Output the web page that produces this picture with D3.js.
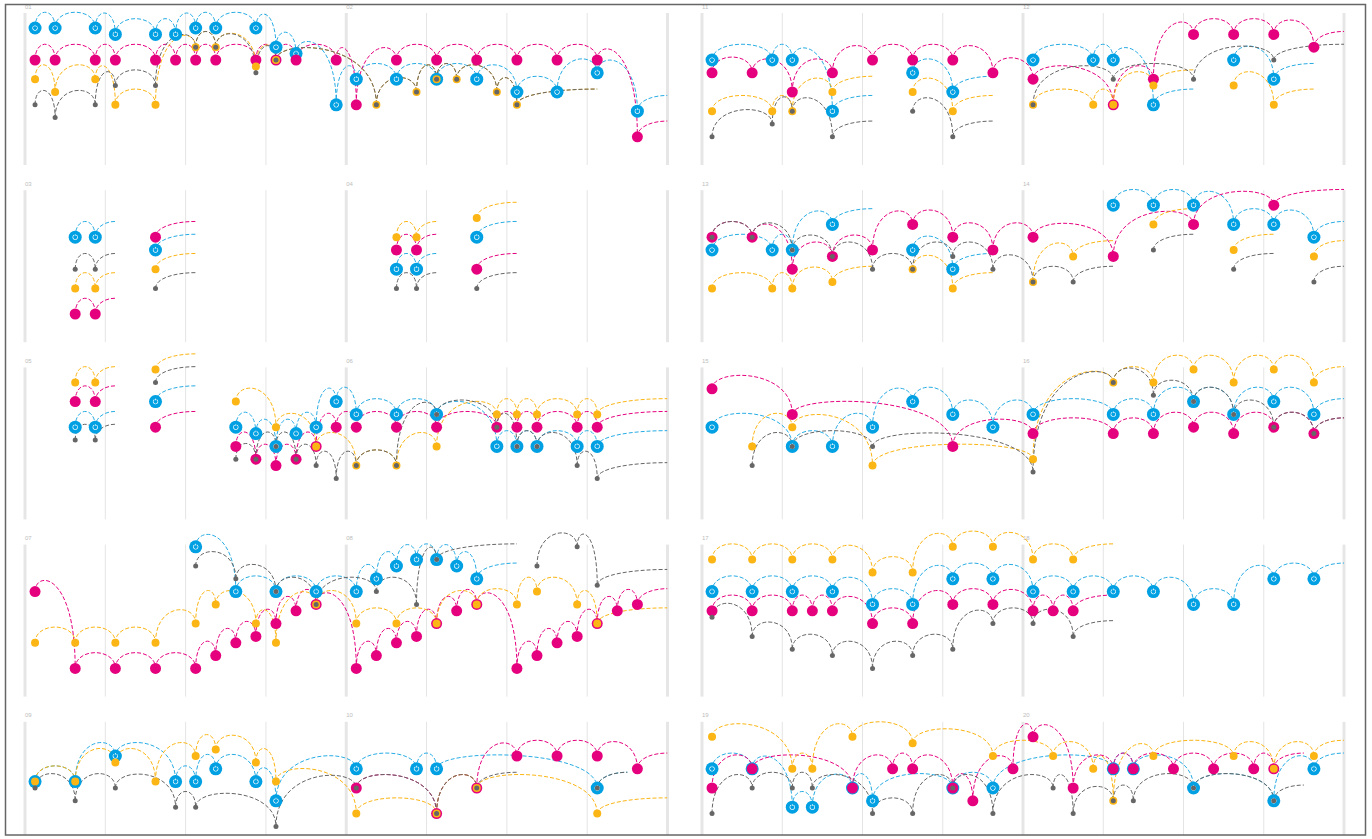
<!DOCTYPE html>
<html>
<head>
<meta charset="utf-8">
<script src="https://cdn.jsdelivr.net/npm/d3@7"></script>
<style>
  body { margin: 0; background: #fff; }
  svg { display: block; font-family: "Liberation Sans", Arial, sans-serif; }
</style>
</head>
<body>
<div id="chart"></div>
<script>
// Each point: [slot, rank] ; a third value ends the run with a trailing half arc of that many slots

// strip 01 | 02
var r01Blue    = [[0,0],[1,0],[3,0],[4,1],[6,1],[7,1],[8,0],[9,0],[11,0],[12,3],[13,4],[15,12],[16,8],[18,8],[20,8],[22,8],[24,10],[26,10],[28,7],[30,13,1.5]];
var r01Magenta = [[0,5],[1,5],[3,5],[4,5],[6,5],[7,5],[8,5],[9,5],[11,5],[12,5],[13,5],[15,5],[16,12],[18,5],[20,5],[22,5],[24,5],[26,5],[28,5],[30,17,1.5]];
var r01Yellow  = [[0,8],[1,10],[3,8],[4,12],[6,12],[8,3],[9,3],[11,6],[12,5],[17,12],[19,10],[20,8],[21,8],[23,10],[24,12,4]];
var r01Gray    = [[0,12],[1,14],[3,12],[4,9],[6,9],[8,3],[9,3],[11,7],[12,5],[17,12],[19,10],[20,8],[21,8],[23,10],[24,12,4]];

// strip 03 | 04
var r03Blue    = [[2,5],[3,5,1],[6,7,2],[18,10],[19,10,1],[22,5,2]];
var r03Magenta = [[2,17],[3,17,1],[6,5,2],[18,7],[19,7,1],[22,10,2]];
var r03Yellow  = [[2,13],[3,13,1],[6,10,2],[18,5],[19,5,1],[22,2,2]];
var r03Gray    = [[2,10],[3,10,1],[6,13,2],[18,13],[19,13,1],[22,13,2]];

// strip 05 | 06
var r05Blue    = [[2,7],[3,7,1],[6,3,2],[10,7],[11,8],[12,10],[13,8],[14,7],[15,3],[16,5],[18,5],[20,5],[23,10],[24,10],[25,10],[27,10],[28,10,3.5]];
var r05Magenta = [[2,3],[3,3,1],[6,7,2],[10,10],[11,12],[12,13],[13,12],[14,10],[15,7],[16,7],[18,7],[20,7],[23,7],[24,7],[25,7],[27,7],[28,7,3.5]];
var r05Yellow  = [[2,0],[3,0,1],[6,-2,2],[10,3],[12,7],[14,10],[16,13],[18,13],[20,10],[23,5],[24,5],[25,5],[27,5],[28,5,3.5]];
var r05Gray    = [[2,9],[3,9,1],[6,0,2],[10,12],[11,12],[12,10],[13,12],[14,13],[15,15],[16,13],[18,13],[20,5],[23,7],[24,10],[25,10],[27,13],[28,15,3.5]];

// strip 07 | 08
var r07Blue    = [[8,-2],[10,5],[12,5],[14,5],[16,5],[17,3],[18,1],[19,0],[20,0],[21,1],[22,3,2]];
var r07Magenta = [[0,5],[2,17],[4,17],[6,17],[8,17],[9,15],[10,13],[11,12],[12,10],[13,8],[14,7],[16,17],[17,15],[18,13],[19,12],[20,10],[21,8],[22,7],[24,17],[25,15],[26,13],[27,12],[28,10],[29,8],[30,7,1.5]];
var r07Yellow  = [[0,13],[2,13],[4,13],[6,13],[8,10],[9,7],[11,10],[12,13],[14,7],[16,10],[18,10],[20,10],[22,7],[24,7],[25,5],[27,7],[28,10,3.5]];
var r07Gray    = [[8,1],[10,3],[12,5],[14,7],[17,5],[19,7],[20,0,4],[25,1],[27,-2],[28,4,3.5]];

// strip 09 | 10
var r09Blue    = [[0,7],[2,7],[4,3],[7,7],[8,7],[9,5],[11,7],[12,10],[16,5],[19,5],[20,5],[28,8,1.5]];
var r09Magenta = [[16,8],[20,12],[22,8],[24,3],[26,3],[28,3],[30,5,1.5]];
var r09Yellow  = [[0,7],[2,7],[4,4],[6,7],[8,3],[9,2],[11,4],[12,7],[16,12],[20,12],[22,8],[28,12,3.5]];
var r09Gray    = [[0,8],[2,10],[4,8],[7,11],[8,11],[12,14],[16,8],[20,12],[22,8,2],[28,8,1.5]];

// strip 11 | 12
var r11Blue    = [[0,5],[3,5],[4,5],[6,13,2],[10,7],[12,10,2],[16,5],[19,5],[20,5],[22,12,2],[26,5],[28,8,2]];
var r11Magenta = [[0,7],[2,7],[4,10],[6,7],[8,5],[10,5],[12,5],[14,7],[16,8],[20,12],[22,8],[24,1],[26,1],[28,1],[30,3,1.5]];
var r11Yellow  = [[0,13],[3,13],[4,13],[6,10,2],[10,10],[12,13,2],[16,12],[19,12],[20,12],[22,9,2],[26,9],[28,12,2]];
var r11Gray    = [[0,17],[3,15],[4,13],[6,17,2],[10,13],[12,17,2],[16,12],[20,8],[24,8],[28,5,3.5]];

// strip 13 | 14
var r13Blue    = [[0,7],[3,7],[4,7],[6,3,2],[10,7],[12,10,2],[20,0],[22,0],[24,0],[26,3],[28,3],[30,5,1.5]];
var r13Magenta = [[0,5],[2,5],[4,10],[6,8],[8,7],[10,3],[12,5],[14,7],[16,5],[20,8],[24,3],[28,0,3.5]];
var r13Yellow  = [[0,13],[3,13],[4,13],[6,12,2],[10,10],[12,13,2],[16,12],[18,8,2],[22,3,2],[26,7,2],[30,8,1.5]];
var r13Gray    = [[0,5],[2,5],[4,7],[6,8],[8,10],[10,10],[12,8],[14,10],[16,12],[18,12,2],[22,7,2],[26,10,2],[30,12,1.5]];

// strip 15 | 16
var r15Blue    = [[0,7],[4,10],[6,10],[8,7],[10,3],[12,5],[14,7],[16,5],[20,5],[22,5],[24,3],[26,5],[28,3],[30,5,1.5]];
var r15Magenta = [[0,1],[4,5],[12,10],[16,8],[20,8],[22,8],[24,7],[26,8],[28,7],[30,8,1.5]];
var r15Yellow  = [[2,10],[4,7],[8,13],[16,12],[20,0],[22,0],[24,-2],[26,0],[28,-2],[30,0,1.5]];
var r15Gray    = [[2,13],[4,10],[8,10],[16,14],[20,0],[22,2],[24,3],[26,5],[28,7],[30,8,1.5]];

// strip 17 | 18
var r17Blue    = [[0,5],[2,5],[4,5],[6,5],[8,7],[10,7],[12,3],[14,3],[16,5],[18,5],[20,5],[22,5],[24,7],[26,7],[28,3],[30,3,1.5]];
var r17Magenta = [[0,8],[2,8],[4,8],[5,8],[6,8],[8,10],[10,10],[12,7],[14,7],[16,8],[17,8],[18,8,2]];
var r17Yellow  = [[0,0],[2,0],[4,0],[6,0],[8,2],[10,2],[12,-2],[14,-2],[16,0],[18,0,2]];
var r17Gray    = [[0,9],[2,12],[4,14],[6,15],[8,17],[10,15],[12,14],[14,10],[16,10],[18,12,2]];

// strip 19 | 20
var r19Blue    = [[0,5],[2,5],[4,11],[5,11],[7,8],[8,10],[12,8],[14,8],[20,5],[21,5],[24,8],[28,10],[30,5,1.5]];
var r19Magenta = [[0,8],[2,5],[7,8],[9,5],[10,5],[12,8],[13,10],[15,5],[16,0],[18,8],[20,5],[21,5],[23,5],[25,5],[27,5],[28,5,1.5]];
var r19Yellow  = [[0,0],[4,5],[5,5],[7,0],[10,1],[14,3],[17,3],[19,5],[20,10],[22,3],[26,3],[28,5],[30,3,1.5]];
var r19Gray    = [[0,12],[2,8],[4,8],[5,8],[8,12],[10,12],[12,8],[14,12],[17,8],[18,12],[20,10],[21,10],[24,8],[28,10,1.5]];

var panelLabels = [["01","02"],["03","04"],["05","06"],["07","08"],["09","10"],
                   ["11","12"],["13","14"],["15","16"],["17","18"],["19","20"]];

// Layout
var width = 1372;
var height = 839;
var rowTops = [13, 190.2, 367.4, 544.6, 721.8];
var colX = [[25, 667.5], [702, 1344]];
var K = 21; // arc lift
var dotColor  = ["#00a0e3", "#e5007e", "#fbb514", "#666666"];
var lineColor = ["#28ace3", "#e5007e", "#fbb514", "#666666"];
var dotR = [6.5, 5.5, 4, 2.5];

var strips = [
  [r01Blue, r01Magenta, r01Yellow, r01Gray],
  [r03Blue, r03Magenta, r03Yellow, r03Gray],
  [r05Blue, r05Magenta, r05Yellow, r05Gray],
  [r07Blue, r07Magenta, r07Yellow, r07Gray],
  [r09Blue, r09Magenta, r09Yellow, r09Gray],
  [r11Blue, r11Magenta, r11Yellow, r11Gray],
  [r13Blue, r13Magenta, r13Yellow, r13Gray],
  [r15Blue, r15Magenta, r15Yellow, r15Gray],
  [r17Blue, r17Magenta, r17Yellow, r17Gray],
  [r19Blue, r19Magenta, r19Yellow, r19Gray]
];

var svg = d3.select('#chart')
  .append('svg')
  .attr('width', width)
  .attr('height', height);

var defs = svg.append('defs');
defs.append('clipPath').attr('id', 'frame')
  .append('rect').attr('x', 5).attr('y', 5).attr('width', 1361).attr('height', 830);

var root = svg.append('g').attr('clip-path', 'url(#frame)');

function arcPath(p, q) {
  var lift = Math.min(p[1], q[1]) - K;
  var path = d3.path();
  path.moveTo(p[0], p[1]);
  path.bezierCurveTo(p[0], lift, q[0], lift, q[0], q[1]);
  return path.toString();
}

function tailPath(p, len) {
  var path = d3.path();
  path.moveTo(p[0], p[1]);
  path.bezierCurveTo(p[0], p[1] - K / 2, p[0] + len / 2, p[1] - 0.75 * K, p[0] + len, p[1] - 0.75 * K);
  return path.toString();
}

strips.forEach(function (series, i) {
  var col = Math.floor(i / 5);
  var top = rowTops[i % 5];
  var x = d3.scaleLinear().domain([0, 32]).range(colX[col]);
  var y = d3.scaleLinear().domain([0, 20]).range([top + 15, top + 15 + 128]);
  var slotW = x(1) - x(0);

  var g = root.append('g');

  // grid
  g.selectAll('line.grid')
    .data(d3.range(0, 33, 4))
    .enter().append('line')
    .attr('x1', function (d) { return x(d); })
    .attr('x2', function (d) { return x(d); })
    .attr('y1', top)
    .attr('y2', top + 152)
    .style('stroke', function (d) { return d % 16 === 0 ? '#e6e6e6' : '#e4e4e4'; })
    .style('stroke-width', function (d) { return d % 16 === 0 ? 3 : 1; });

  g.selectAll('text.lbl')
    .data(panelLabels[i])
    .enter().append('text')
    .attr('x', function (d, j) { return x(j * 16); })
    .attr('y', top - 4.5)
    .style('font-size', '6px')
    .style('fill', '#bdbdbd')
    .text(function (d) { return d; });

  var cid = 'clip' + i;
  defs.append('clipPath').attr('id', cid)
    .append('rect').attr('x', x(0)).attr('y', top - 60)
    .attr('width', x(32) - x(0)).attr('height', 260);

  var lines = g.append('g').attr('clip-path', 'url(#' + cid + ')');

  series.forEach(function (pts, k) {
    var segs = [];
    pts.forEach(function (p, j) {
      var a = [x(p[0] + 0.5), y(p[1])];
      if (p.length > 2) {
        if (p[2] > 0) segs.push(tailPath(a, p[2] * slotW));
      } else if (j < pts.length - 1) {
        var q = pts[j + 1];
        segs.push(arcPath(a, [x(q[0] + 0.5), y(q[1])]));
      }
    });
    lines.selectAll('path.s' + k)
      .data(segs)
      .enter().append('path')
      .attr('d', function (d) { return d; })
      .style('fill', 'none')
      .style('stroke', lineColor[k])
      .style('stroke-width', 1)
      .style('stroke-dasharray', '4,2');
  });

  series.forEach(function (pts, k) {
    var dots = g.selectAll('g.d' + k)
      .data(pts)
      .enter().append('g')
      .attr('transform', function (d) { return 'translate(' + x(d[0] + 0.5) + ',' + y(d[1]) + ')'; });
    dots.append('circle')
      .attr('r', dotR[k])
      .style('fill', dotColor[k]);
    if (k === 0) {
      var ring = d3.arc().innerRadius(1.9).outerRadius(2.7)
        .startAngle(0.5).endAngle(2 * Math.PI - 0.5);
      dots.append('path').attr('d', ring()).style('fill', '#fff');
      dots.append('rect').attr('x', -0.4).attr('y', -3).attr('width', 0.8).attr('height', 1.6).style('fill', '#fff');
    }
  });
});

svg.append('rect')
  .attr('x', 5.5).attr('y', 4.5)
  .attr('width', 1360).attr('height', 830.5)
  .style('fill', 'none')
  .style('stroke', '#666')
  .style('stroke-width', 1.5);
</script>
</body>
</html>
